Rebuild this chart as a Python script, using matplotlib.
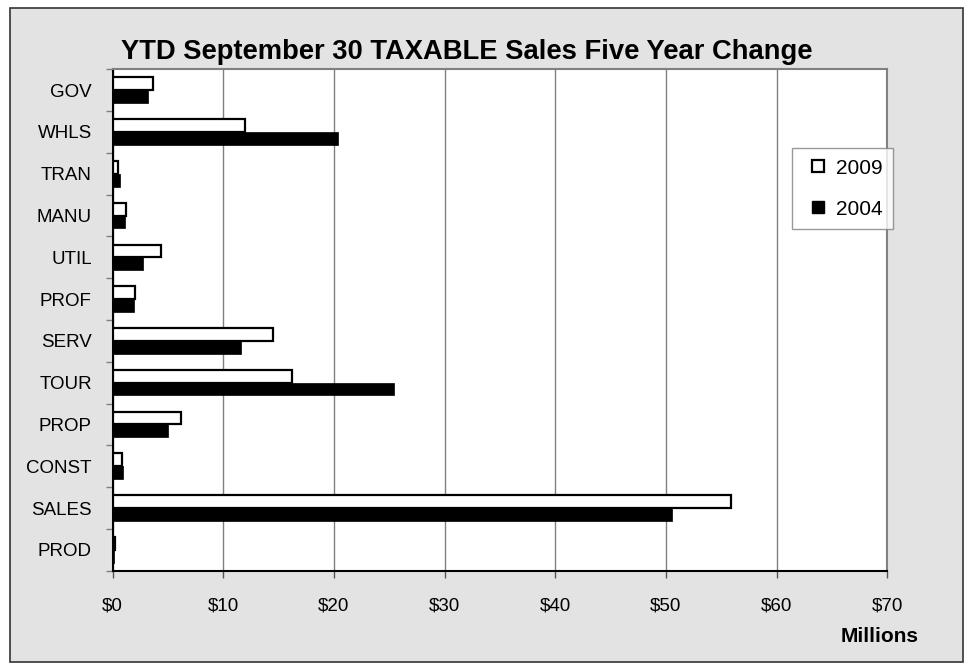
import matplotlib
matplotlib.use('Agg')
import matplotlib.pyplot as plt
from matplotlib.lines import Line2D
from matplotlib.patches import Rectangle
import numpy as np

plt.rcParams['font.family'] = ['Liberation Sans', 'DejaVu Sans']

# Data (millions of dollars), top to bottom as shown
categories = ['GOV', 'WHLS', 'TRAN', 'MANU', 'UTIL', 'PROF',
              'SERV', 'TOUR', 'PROP', 'CONST', 'SALES', 'PROD']
sales_2009 = [3.65, 11.95, 0.45, 1.2, 4.4, 2.05, 14.5, 16.2, 6.2, 0.8, 55.9, 0.2]
sales_2004 = [3.15, 20.4, 0.65, 1.1, 2.75, 1.9, 11.6, 25.4, 5.0, 0.9, 50.5, 0.15]
xticks = [0, 10, 20, 30, 40, 50, 60, 70]
xticklabels = ['$%d' % v for v in xticks]

W, H = 969, 668
fig = plt.figure(figsize=(W / 100, H / 100), dpi=100)
fig.patch.set_facecolor('white')

# outer chart frame with grey fill
frame = Rectangle((10 / W, 1 - 662 / H), (963 - 10) / W, (662 - 8) / H,
                  transform=fig.transFigure, facecolor='#e3e3e3',
                  edgecolor='#333333', linewidth=1.2, zorder=-5)
fig.patches.append(frame)

ax = fig.add_axes([112.7 / W, 1 - 570.7 / H, (887.3 - 112.7) / W, (570.7 - 69.3) / H])
ax.set_zorder(1)
ax.set_facecolor('white')

y = np.arange(len(categories))
h = 0.305
ax.barh(y - h / 2, sales_2009, height=h, color='white', edgecolor='black',
        linewidth=1.6, zorder=3, label='2009')
ax.barh(y + h / 2, sales_2004, height=h, color='black', edgecolor='black',
        linewidth=0.5, zorder=3, label='2004')

ax.set_xlim(0, 70)
ax.set_ylim(len(categories) - 0.5, -0.5)
ax.set_xticks(xticks)
ax.set_xticklabels(xticklabels, fontsize=13.5)
ax.set_yticks(y)
ax.set_yticklabels(categories, fontsize=13.5)
ax.set_yticks(np.arange(len(categories) + 1) - 0.5, minor=True)
ax.tick_params(axis='y', which='major', length=0, pad=15)
ax.tick_params(axis='y', which='minor', length=5, color='#808080', width=1)
ax.tick_params(axis='x', length=5, color='#555555', width=1, pad=14)

ax.grid(axis='x', color='#808080', linewidth=1, zorder=1)
ax.set_axisbelow(True)

for side in ['top', 'right']:
    ax.spines[side].set_color('#808080')
    ax.spines[side].set_linewidth(1.5)
ax.spines['left'].set_color('black')
ax.spines['left'].set_linewidth(1.5)
ax.spines['bottom'].set_color('black')
ax.spines['bottom'].set_linewidth(1.5)

fig.text(466.5 / W, 1 - 59.3 / H, 'YTD September 30 TAXABLE Sales Five Year Change',
         ha='center', va='baseline', fontsize=19.7, fontweight='bold')
fig.text(919 / W, 1 - 641.5 / H, 'Millions', ha='right', va='baseline',
         fontsize=15, fontweight='bold')

handles = [Line2D([], [], linestyle='none', marker='s', markersize=8.5,
                  markerfacecolor='white', markeredgecolor='black', markeredgewidth=1.6),
           Line2D([], [], linestyle='none', marker='s', markersize=8.5,
                  markerfacecolor='black', markeredgecolor='black')]
leg = ax.legend(handles, ['2009', '2004'], loc='upper left',
                bbox_to_anchor=(792 / W, 1 - 148.3 / H), bbox_transform=fig.transFigure,
                borderaxespad=0, fontsize=15, frameon=True, fancybox=False,
                handlelength=1.5, handletextpad=0.1, labelspacing=1.05,
                borderpad=0.5)
leg.get_frame().set_edgecolor('#808080')
leg.get_frame().set_linewidth(1)
leg.set_zorder(10)

fig.savefig('out.png', dpi=100)
